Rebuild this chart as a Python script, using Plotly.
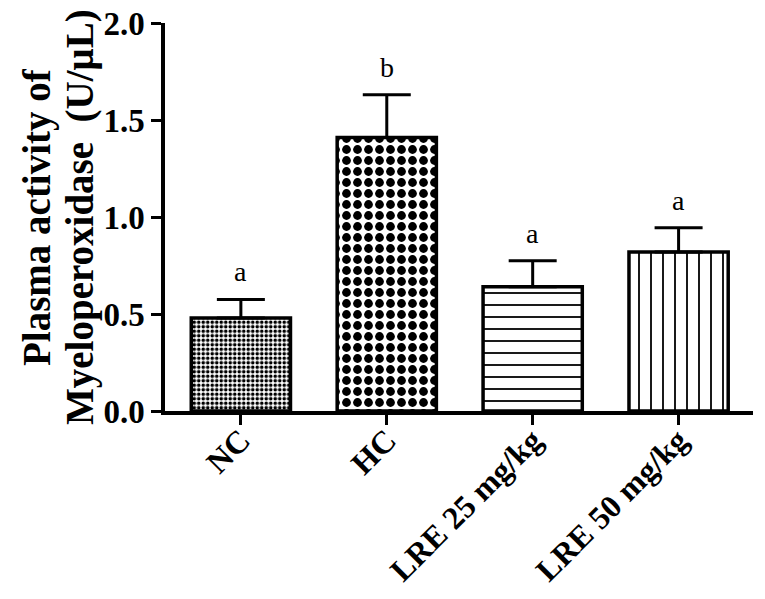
import plotly.graph_objects as go

categories = ["NC", "HC", "LRE 25 mg/kg", "LRE 50 mg/kg"]
means = [0.48, 1.41, 0.64, 0.82]
sem = [0.095, 0.22, 0.135, 0.125]
letters = ["a", "b", "a", "a"]
pattern_shapes = [".", ".", "-", "|"]
pattern_sizes = [4.5, 11, 12, 12]
pattern_solidity = [0.5, 0.5, 0.15, 0.15]

serif = "Liberation Serif, Times New Roman, serif"

fig = go.Figure()
fig.add_trace(go.Bar(
    x=list(range(len(categories))),
    y=means,
    width=0.68,
    marker=dict(
        color="white",
        line=dict(color="black", width=3.5),
        pattern=dict(shape=pattern_shapes, size=pattern_sizes,
                     solidity=pattern_solidity, fgcolor="black",
                     bgcolor="white", fillmode="replace"),
    ),
    error_y=dict(type="data", array=sem, arrayminus=[0] * len(sem),
                 symmetric=False, color="black", thickness=3, width=24),
    showlegend=False,
))

for i, (m, s, l) in enumerate(zip(means, sem, letters)):
    fig.add_annotation(x=i, y=m + s, text=l, showarrow=False,
                       yanchor="bottom", yshift=10,
                       font=dict(family=serif, size=28, color="black"))

# y-axis title as two rotated lines
fig.add_annotation(xref="paper", yref="paper", x=0, y=0.5, xshift=-128,
                   text="<b>Plasma activity of</b>", textangle=-90,
                   showarrow=False, xanchor="center", yanchor="middle",
                   font=dict(family=serif, size=39, color="black"))
fig.add_annotation(xref="paper", yref="paper", x=0, y=0.5, xshift=-85,
                   text="<b>Myeloperoxidase  (U/\u03bcL)</b>", textangle=-90,
                   showarrow=False, xanchor="center", yanchor="middle",
                   font=dict(family=serif, size=39, color="black"))

fig.update_layout(
    width=757, height=591,
    margin=dict(l=157, r=12, t=15, b=188),
    plot_bgcolor="white", paper_bgcolor="white",
    xaxis=dict(
        range=[-0.52, 3.51], automargin=False,
        tickmode="array", tickvals=list(range(len(categories))),
        ticktext=[f"<b>{c}</b>" for c in categories],
        tickangle=-45, ticklabelstandoff=-16, ticklabeloverflow="allow",
        ticks="outside", ticklen=10, tickwidth=3, tickcolor="black",
        showline=True, linecolor="black", linewidth=3.5,
        showgrid=False, zeroline=False,
        tickfont=dict(family=serif, size=32, color="black"),
    ),
    yaxis=dict(
        range=[0, 2.0], automargin=False, ticklabeloverflow="allow",
        tickmode="array", tickvals=[0, 0.5, 1.0, 1.5, 2.0],
        ticktext=["<b>0.0</b>", "<b>0.5</b>", "<b>1.0</b>", "<b>1.5</b>", "<b>2.0</b>"],
        ticks="outside", ticklen=10, tickwidth=3, tickcolor="black",
        showline=True, linecolor="black", linewidth=3.5,
        showgrid=False, zeroline=False,
        tickfont=dict(family=serif, size=33, color="black"),
    ),
)

fig.write_html("out.html")
